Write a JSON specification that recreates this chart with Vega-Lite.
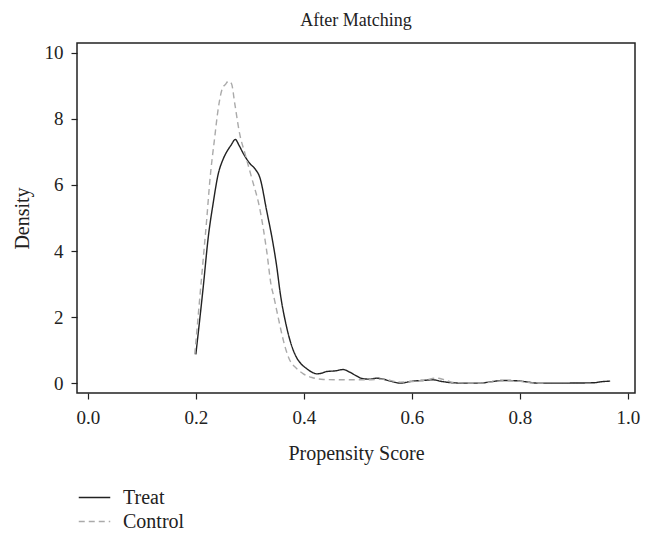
{
  "$schema": "https://vega.github.io/schema/vega-lite/v6.json",
  "autosize": {"type": "none"},
  "padding": {"left": 77, "top": 43, "right": 11, "bottom": 144},
  "width": 558,
  "height": 350,
  "background": "white",
  "title": {"text": "After Matching", "font": "Liberation Serif", "fontSize": 18, "fontWeight": "normal", "color": "#222", "anchor": "middle", "offset": 13},
  "config": {
    "view": {"stroke": "#222", "strokeWidth": 1.5},
    "font": "Liberation Serif"
  },
  "data": {"values": [
    {"group": "Treat", "x": 0.200, "d": 0.87},
    {"group": "Treat", "x": 0.214, "d": 2.96},
    {"group": "Treat", "x": 0.223, "d": 4.42},
    {"group": "Treat", "x": 0.232, "d": 5.44},
    {"group": "Treat", "x": 0.241, "d": 6.30},
    {"group": "Treat", "x": 0.251, "d": 6.80},
    {"group": "Treat", "x": 0.257, "d": 7.00},
    {"group": "Treat", "x": 0.265, "d": 7.20},
    {"group": "Treat", "x": 0.273, "d": 7.38},
    {"group": "Treat", "x": 0.280, "d": 7.20},
    {"group": "Treat", "x": 0.288, "d": 6.95},
    {"group": "Treat", "x": 0.300, "d": 6.65},
    {"group": "Treat", "x": 0.309, "d": 6.50},
    {"group": "Treat", "x": 0.319, "d": 6.20},
    {"group": "Treat", "x": 0.331, "d": 5.23},
    {"group": "Treat", "x": 0.343, "d": 4.22},
    {"group": "Treat", "x": 0.350, "d": 3.50},
    {"group": "Treat", "x": 0.356, "d": 2.75},
    {"group": "Treat", "x": 0.368, "d": 1.70},
    {"group": "Treat", "x": 0.377, "d": 1.15},
    {"group": "Treat", "x": 0.386, "d": 0.79},
    {"group": "Treat", "x": 0.395, "d": 0.58},
    {"group": "Treat", "x": 0.405, "d": 0.44},
    {"group": "Treat", "x": 0.415, "d": 0.33},
    {"group": "Treat", "x": 0.424, "d": 0.28},
    {"group": "Treat", "x": 0.433, "d": 0.30},
    {"group": "Treat", "x": 0.442, "d": 0.35},
    {"group": "Treat", "x": 0.458, "d": 0.37},
    {"group": "Treat", "x": 0.473, "d": 0.41},
    {"group": "Treat", "x": 0.485, "d": 0.33},
    {"group": "Treat", "x": 0.497, "d": 0.22},
    {"group": "Treat", "x": 0.510, "d": 0.13},
    {"group": "Treat", "x": 0.522, "d": 0.12},
    {"group": "Treat", "x": 0.535, "d": 0.15},
    {"group": "Treat", "x": 0.544, "d": 0.13},
    {"group": "Treat", "x": 0.560, "d": 0.06},
    {"group": "Treat", "x": 0.578, "d": 0.00},
    {"group": "Treat", "x": 0.602, "d": 0.06},
    {"group": "Treat", "x": 0.620, "d": 0.08},
    {"group": "Treat", "x": 0.639, "d": 0.10},
    {"group": "Treat", "x": 0.655, "d": 0.05},
    {"group": "Treat", "x": 0.676, "d": 0.01},
    {"group": "Treat", "x": 0.700, "d": 0.00},
    {"group": "Treat", "x": 0.726, "d": 0.00},
    {"group": "Treat", "x": 0.750, "d": 0.05},
    {"group": "Treat", "x": 0.769, "d": 0.08},
    {"group": "Treat", "x": 0.794, "d": 0.07},
    {"group": "Treat", "x": 0.815, "d": 0.03},
    {"group": "Treat", "x": 0.831, "d": 0.00},
    {"group": "Treat", "x": 0.880, "d": 0.00},
    {"group": "Treat", "x": 0.936, "d": 0.01},
    {"group": "Treat", "x": 0.950, "d": 0.04},
    {"group": "Treat", "x": 0.967, "d": 0.06},
    {"group": "Control", "x": 0.198, "d": 0.87},
    {"group": "Control", "x": 0.214, "d": 3.82},
    {"group": "Control", "x": 0.220, "d": 4.93},
    {"group": "Control", "x": 0.226, "d": 6.14},
    {"group": "Control", "x": 0.235, "d": 7.45},
    {"group": "Control", "x": 0.241, "d": 8.26},
    {"group": "Control", "x": 0.249, "d": 8.92},
    {"group": "Control", "x": 0.255, "d": 9.05},
    {"group": "Control", "x": 0.260, "d": 9.14},
    {"group": "Control", "x": 0.266, "d": 9.07},
    {"group": "Control", "x": 0.272, "d": 8.47},
    {"group": "Control", "x": 0.281, "d": 7.56},
    {"group": "Control", "x": 0.291, "d": 6.95},
    {"group": "Control", "x": 0.303, "d": 6.24},
    {"group": "Control", "x": 0.319, "d": 5.23},
    {"group": "Control", "x": 0.331, "d": 4.02},
    {"group": "Control", "x": 0.340, "d": 2.91},
    {"group": "Control", "x": 0.343, "d": 2.71},
    {"group": "Control", "x": 0.351, "d": 2.10},
    {"group": "Control", "x": 0.359, "d": 1.50},
    {"group": "Control", "x": 0.366, "d": 1.05},
    {"group": "Control", "x": 0.374, "d": 0.69},
    {"group": "Control", "x": 0.386, "d": 0.45},
    {"group": "Control", "x": 0.399, "d": 0.28},
    {"group": "Control", "x": 0.415, "d": 0.17},
    {"group": "Control", "x": 0.436, "d": 0.11},
    {"group": "Control", "x": 0.485, "d": 0.10},
    {"group": "Control", "x": 0.520, "d": 0.10},
    {"group": "Control", "x": 0.545, "d": 0.12},
    {"group": "Control", "x": 0.578, "d": 0.03},
    {"group": "Control", "x": 0.602, "d": 0.05},
    {"group": "Control", "x": 0.625, "d": 0.09},
    {"group": "Control", "x": 0.645, "d": 0.15},
    {"group": "Control", "x": 0.660, "d": 0.10},
    {"group": "Control", "x": 0.676, "d": 0.02},
    {"group": "Control", "x": 0.726, "d": 0.00},
    {"group": "Control", "x": 0.769, "d": 0.07},
    {"group": "Control", "x": 0.794, "d": 0.06},
    {"group": "Control", "x": 0.830, "d": 0.00},
    {"group": "Control", "x": 0.850, "d": 0.00}
  ]},
  "mark": {"type": "line", "strokeWidth": 1.4, "interpolate": "monotone"},
  "encoding": {
    "x": {
      "field": "x", "type": "quantitative",
      "scale": {"domain": [-0.02, 1.013], "nice": false, "zero": false},
      "axis": {
        "values": [0, 0.2, 0.4, 0.6, 0.8, 1.0], "format": ".1f", "grid": false, "domain": false,
        "tickColor": "#222", "tickSize": 6, "tickWidth": 1.2,
        "labelFont": "Liberation Serif", "labelFontSize": 19, "labelColor": "#222", "labelPadding": 9,
        "title": "Propensity Score", "titleFont": "Liberation Serif", "titleFontSize": 20, "titleFontWeight": "normal", "titleColor": "#222", "titlePadding": 16
      }
    },
    "y": {
      "field": "d", "type": "quantitative",
      "scale": {"domain": [-0.3, 10.3], "nice": false, "zero": false},
      "axis": {
        "values": [0, 2, 4, 6, 8, 10], "grid": false, "domain": false,
        "tickColor": "#222", "tickSize": 6, "tickWidth": 1.2,
        "labelFont": "Liberation Serif", "labelFontSize": 19, "labelColor": "#222", "labelPadding": 8,
        "title": "Density", "titleFont": "Liberation Serif", "titleFontSize": 20, "titleFontWeight": "normal", "titleColor": "#222", "titlePadding": 12
      }
    },
    "color": {
      "field": "group", "type": "nominal", "title": null,
      "scale": {"domain": ["Treat", "Control"], "range": ["#222222", "#aaaaaa"]},
      "legend": {
        "orient": "none", "legendX": 6, "legendY": 443, "direction": "vertical",
        "symbolType": "M-1.5,0H1.5", "symbolSize": 441, "symbolStrokeWidth": 1.4, "symbolFillColor": "transparent",
        "labelFont": "Liberation Serif", "labelFontSize": 20, "labelColor": "#222",
        "rowPadding": 2, "labelOffset": 17
      }
    },
    "strokeDash": {
      "field": "group", "type": "nominal", "title": null,
      "scale": {"domain": ["Treat", "Control"], "range": [[1, 0], [6, 4]]}
    }
  }
}
